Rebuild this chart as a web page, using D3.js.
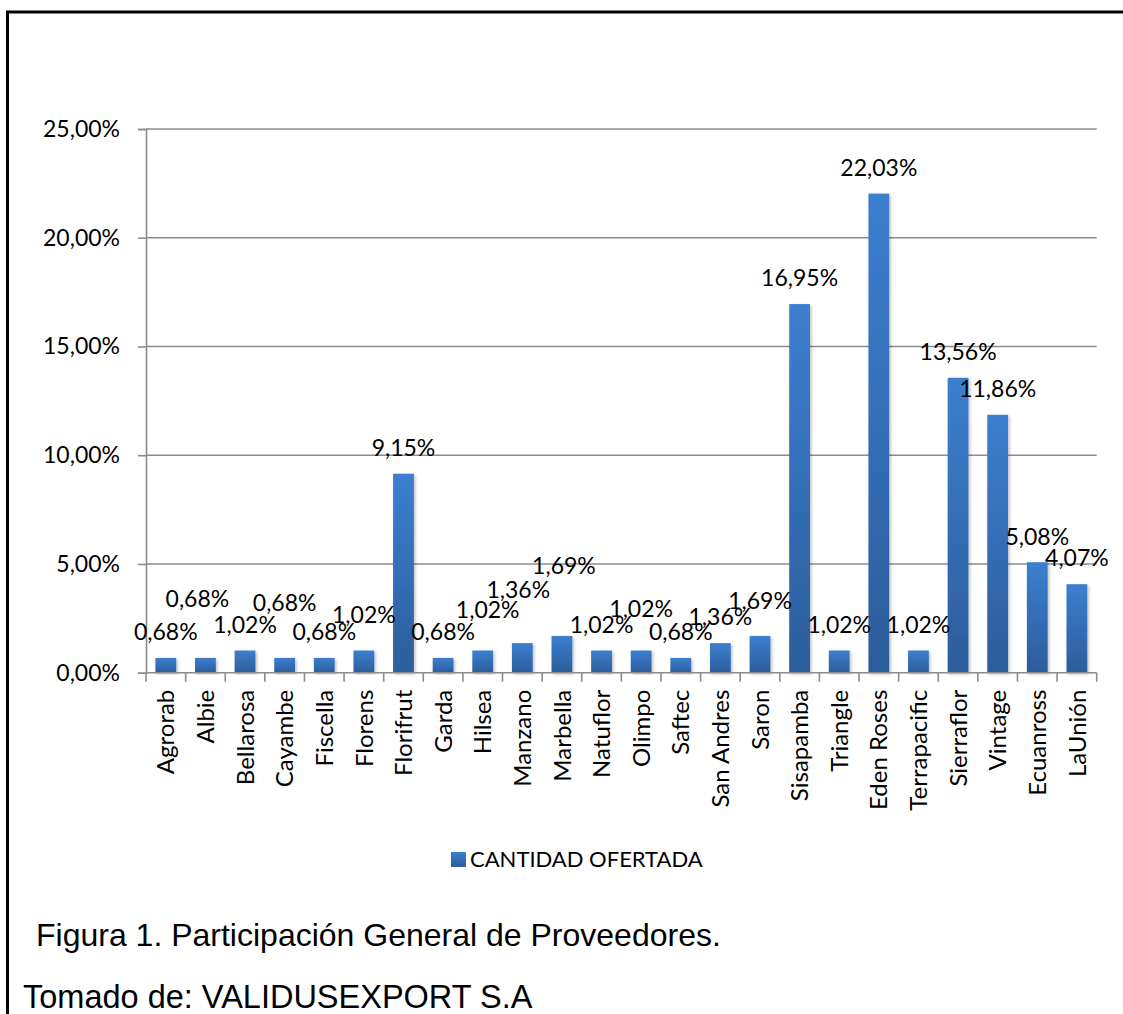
<!DOCTYPE html>
<html lang="es">
<head>
<meta charset="UTF-8">
<title>Participación General de Proveedores</title>
<script src="https://d3js.org/d3.v7.min.js"></script>
<style>
  html, body { margin: 0; padding: 0; background: #fff; }
  svg { display: block; }
</style>
</head>
<body>
<svg id="chart" width="1123" height="1014"></svg>
<script>
// data
const proveedores = ["Agrorab", "Albie", "Bellarosa", "Cayambe", "Fiscella", "Florens", "Florifrut",
  "Garda", "Hilsea", "Manzano", "Marbella", "Natuflor", "Olimpo", "Saftec", "San Andres", "Saron",
  "Sisapamba", "Triangle", "Eden Roses", "Terrapacific", "Sierraflor", "Vintage", "Ecuanross", "LaUnión"];
const cantidadOfertada = [0.68, 0.68, 1.02, 0.68, 0.68, 1.02, 9.15, 0.68, 1.02, 1.36, 1.69, 1.02, 1.02,
  0.68, 1.36, 1.69, 16.95, 1.02, 22.03, 1.02, 13.56, 11.86, 5.08, 4.07];
const yTicks = [0, 5, 10, 15, 20, 25];
const serieNombre = "CANTIDAD OFERTADA";
const caption1 = "Figura 1. Participación General de Proveedores.";
const caption2 = "Tomado de: VALIDUSEXPORT S.A";

// Excel moved some labels to avoid overlaps; pixel nudges for those
const labelNudge = [[0,0],[-8,-33],[0,0],[0,-29],[0,0],[0,-10],[0,0],[0,0],[5,-15],[-4,-27],[2,-44],
  [0,0],[0,-16],[0,0],[0,0],[0,-9],[0,0],[0,0],[0,0],[0,0],[0,0],[0,0],[0,0],[0,0]];

const fmt = v => d3.format(".2f")(v).replace(".", ",") + "%";
const chartFont = "Lato, 'Open Sans', sans-serif";

const svg = d3.select("#chart");
const plot = {left: 146, right: 1096.7, top: 129, bottom: 672.7};

const x = d3.scaleBand()
    .domain(proveedores)
    .range([plot.left, plot.right])
    .paddingInner(0.475)
    .paddingOuter(0.2375);
const y = d3.scaleLinear().domain([0, 25]).range([plot.bottom, plot.top]);

// frame (top and left edge only)
svg.append("path")
    .attr("d", "M7.5,1014 V12 H1123")
    .attr("fill", "none")
    .attr("stroke", "#000")
    .attr("stroke-width", 3);

const defs = svg.append("defs");
const grad = defs.append("linearGradient")
    .attr("id", "barGrad")
    .attr("x1", 0).attr("y1", 0).attr("x2", 0).attr("y2", 1);
grad.append("stop").attr("offset", "0%").attr("stop-color", "#3c7fd0");
grad.append("stop").attr("offset", "100%").attr("stop-color", "#2c5d9b");

const shadow = defs.append("filter").attr("id", "shadow")
    .attr("x", "-30%").attr("y", "-5%").attr("width", "160%").attr("height", "115%");
shadow.append("feDropShadow")
    .attr("dx", 1.5).attr("dy", 1.5).attr("stdDeviation", 1.5)
    .attr("flood-color", "#000").attr("flood-opacity", 0.25);

// gridlines
svg.append("g")
  .selectAll("line")
  .data(yTicks.slice(1))
  .join("line")
    .attr("x1", plot.left).attr("x2", plot.right)
    .attr("y1", d => y(d)).attr("y2", d => y(d))
    .attr("stroke", "#8c8c8c")
    .attr("stroke-width", 1.6);

// y axis
const yAxis = d3.axisLeft(y)
    .tickValues(yTicks)
    .tickSize(8)
    .tickPadding(18)
    .tickFormat(fmt);
const yG = svg.append("g")
    .attr("transform", `translate(${plot.left},0)`)
    .call(yAxis);
yG.select(".domain").attr("stroke", "#8c8c8c").attr("stroke-width", 1.6);
yG.selectAll(".tick line").attr("stroke", "#8c8c8c").attr("stroke-width", 1.6);
yG.selectAll(".tick text")
    .attr("fill", "#000")
    .style("font-family", chartFont)
    .style("font-size", "23px");

// bars
svg.append("g")
  .selectAll("rect")
  .data(cantidadOfertada)
  .join("rect")
    .attr("x", (d, i) => x(proveedores[i]))
    .attr("y", d => y(d))
    .attr("width", x.bandwidth())
    .attr("height", d => y(0) - y(d))
    .attr("fill", "url(#barGrad)")
    .attr("filter", "url(#shadow)");

// x axis: line plus ticks on the band edges
const step = x.step();
const edges = d3.range(proveedores.length + 1).map(i => plot.left + i * step);
const xG = svg.append("g");
xG.append("line")
    .attr("x1", plot.left).attr("x2", plot.right)
    .attr("y1", y(0)).attr("y2", y(0))
    .attr("stroke", "#8c8c8c").attr("stroke-width", 1.6);
xG.selectAll(".xtick")
  .data(edges)
  .join("line")
    .attr("class", "xtick")
    .attr("x1", d => d).attr("x2", d => d)
    .attr("y1", y(0)).attr("y2", y(0) + 9)
    .attr("stroke", "#8c8c8c").attr("stroke-width", 1.6);
xG.selectAll(".xlabel")
  .data(proveedores)
  .join("text")
    .attr("class", "xlabel")
    .attr("transform", d => `translate(${x(d) + x.bandwidth() / 2},${y(0) + 17}) rotate(-90)`)
    .attr("text-anchor", "end")
    .attr("dy", "0.36em")
    .style("font-family", chartFont)
    .style("font-size", "24px")
    .text(d => d);

// data labels
svg.append("g")
  .selectAll("text")
  .data(cantidadOfertada)
  .join("text")
    .attr("x", (d, i) => x(proveedores[i]) + x.bandwidth() / 2 + labelNudge[i][0])
    .attr("y", (d, i) => y(d) - 26 + labelNudge[i][1])
    .attr("dy", "0.36em")
    .attr("text-anchor", "middle")
    .style("font-family", chartFont)
    .style("font-size", "23px")
    .text(d => fmt(d));

// legend
const legend = svg.append("g").attr("transform", "translate(451,852)");
legend.append("rect")
    .attr("width", 15).attr("height", 15)
    .attr("fill", "url(#barGrad)");
legend.append("text")
    .attr("x", 19).attr("y", 15)
    .style("font-family", chartFont)
    .style("font-size", "22px")
    .text(serieNombre);

// captions
svg.append("text")
    .attr("x", 36).attr("y", 946)
    .style("font-family", "'Liberation Sans', Arial, sans-serif")
    .style("font-size", "32px")
    .text(caption1);
svg.append("text")
    .attr("x", 23).attr("y", 1008)
    .style("font-family", "'Liberation Sans', Arial, sans-serif")
    .style("font-size", "32.5px")
    .text(caption2);
</script>
</body>
</html>
